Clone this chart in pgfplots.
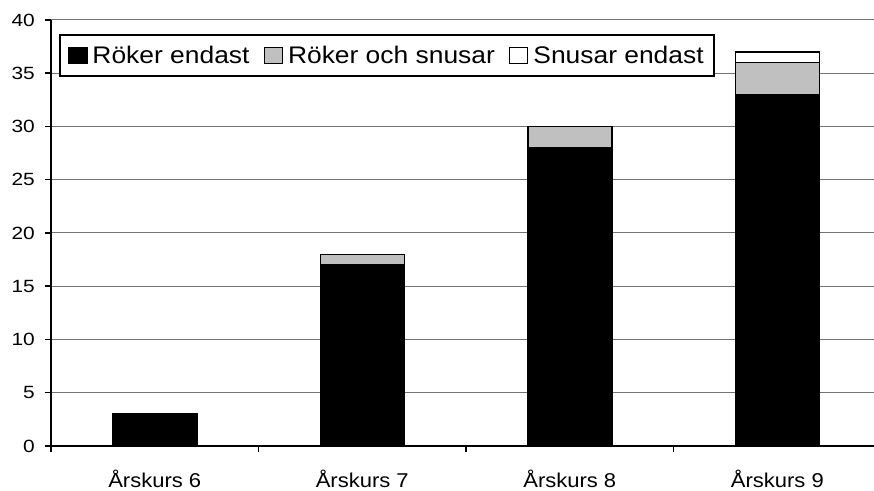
\documentclass[border=0pt]{standalone}
\usepackage{pgfplots}
\pgfplotsset{compat=1.18}
\usepackage{fontspec}
\setmainfont{Liberation Sans}[FakeStretch=1.1]
\newfontfamily\yfont{Liberation Sans}[FakeStretch=1.18]
\definecolor{silv}{RGB}{192,192,192}
\begin{document}
\begin{tikzpicture}
\begin{axis}[
  scale only axis, width=823pt, height=426pt,
  xmin=-0.5, xmax=3.466, ymin=0, ymax=40,
  axis x line=bottom, axis y line=left,
  axis line style={-, black, line width=1.8pt},
  ybar stacked, bar width=0.405,
  ymajorgrids, grid style={black!55, line width=1pt},
  ytick={0,5,...,40},
  tick align=outside,
  major tick length=6pt,
  tick style={black, line width=1.5pt},
  xtick={-0.5,0.5,1.5,2.5}, xticklabels={},
  extra x ticks={0,1,2,3},
  extra x tick labels={Årskurs 6,Årskurs 7,Årskurs 8,Årskurs 9},
  extra x tick style={major tick length=0pt, tick style={draw=none}},
  xticklabel style={font=\fontsize{20}{24}\selectfont, anchor=base, inner sep=0pt, yshift=-42pt},
  yticklabel style={font=\yfont\fontsize{17.7}{20}\selectfont, anchor=east, inner sep=0pt, xshift=-10pt},
  /pgf/number format/assume math mode=true,
  legend columns=3,
  legend style={at={(0,1)}, anchor=north west, xshift=8pt, yshift=-14pt,
    draw=black, line width=2pt, font=\fontsize{24}{28}\selectfont,
    inner xsep=8pt, inner ysep=9pt,
    /tikz/every odd column/.append style={column sep=3pt},
    /tikz/every even column/.append style={column sep=12pt}},
  legend image code/.code={\draw[#1, line width=1.5pt] (0pt,-8pt) rectangle (18pt,8pt);},
]
\addplot[fill=black, draw=black, line width=1.5pt] coordinates {(0,3) (1,17) (2,28) (3,33)};
\addplot[fill=silv, draw=black, line width=1.5pt] coordinates {(0,0) (1,1) (2,2) (3,3)};
\addplot[fill=white, draw=black, line width=1.5pt] coordinates {(0,0) (1,0) (2,0) (3,1)};
\legend{Röker endast, Röker och snusar, Snusar endast}
\end{axis}
\pgfresetboundingbox
\path ([xshift=-51pt,yshift=-45pt]current axis.south west) rectangle ([yshift=20pt]current axis.north east);
\end{tikzpicture}
\end{document}
